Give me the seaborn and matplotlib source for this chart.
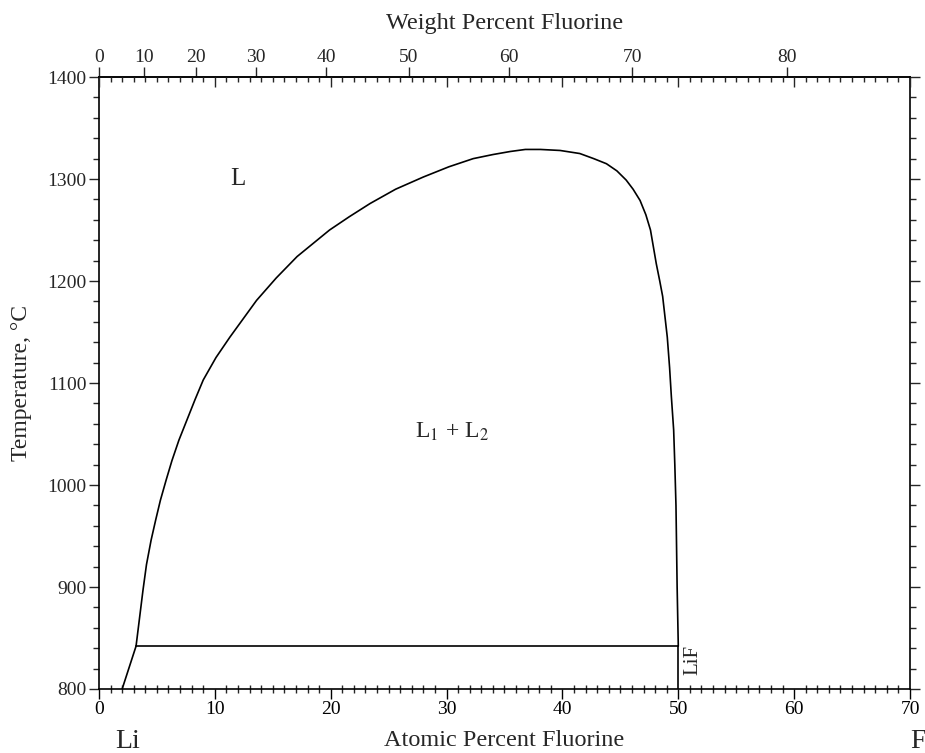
import numpy as np
import pandas as pd
import matplotlib
matplotlib.use("Agg")
import matplotlib.pyplot as plt
import seaborn as sns
from matplotlib.ticker import MultipleLocator

# Miscibility gap boundary (atomic % F, temperature in C)
gap_at = [3.2, 3.8, 4.1, 4.5, 4.9, 5.3, 5.8, 6.3, 6.9, 7.6, 8.3, 9.0, 10.1, 11.3,
          13.6, 15.3, 17.1, 19.9, 21.6, 23.4, 25.6, 28.0, 30.2, 32.3, 34.0, 35.5,
          36.8, 38.1, 39.8, 41.5, 42.7, 43.8, 44.7, 45.5, 46.1, 46.7, 47.2, 47.6,
          48.1, 48.4, 48.65, 49.05, 49.25, 49.4, 49.6, 49.7, 49.8, 49.9, 50.0]
gap_t = [842, 897, 922, 946, 966, 985, 1005, 1024, 1044, 1064, 1084, 1103, 1125, 1145,
         1181, 1203, 1224, 1250, 1263, 1276, 1290, 1302, 1312, 1320, 1324, 1327,
         1329, 1329, 1328, 1325, 1320, 1315, 1308, 1299, 1290, 1279, 1265, 1250,
         1217, 1200, 1185, 1145, 1115, 1087, 1054, 1020, 980, 900, 842]

# Li-side liquidus below the monotectic
li_liq_at = [2.0, 3.2]
li_liq_t = [800, 842]

# monotectic horizontal
mono_at = [3.2, 50.0]
mono_t = [842, 842]

# LiF compound line
lif_at = [50.0, 50.0]
lif_t = [800, 842]

top_ticks = [0, 10, 20, 30, 40, 50, 60, 70, 80]

M_LI = 6.941
M_F = 18.998


def at_to_wt(a):
    a = np.asarray(a, dtype=float)
    return 100 * a * M_F / (a * M_F + (100 - a) * M_LI)


def wt_to_at(w):
    w = np.asarray(w, dtype=float)
    return 100 * (w / M_F) / (w / M_F + (100 - w) / M_LI)


sns.set_style("white")
plt.rcParams['font.family'] = ['Liberation Serif', 'DejaVu Serif']
plt.rcParams['mathtext.fontset'] = 'stix'

fig = plt.figure(figsize=(9.25, 7.53), dpi=100)
ax = fig.add_axes([0.107, 0.085, 0.8768, 0.8127])

lw = 1.2
gap_df = pd.DataFrame({'at': gap_at, 't': gap_t})
sns.lineplot(data=gap_df, x='at', y='t', sort=False, estimator=None, color='black', lw=lw, ax=ax)
for xs, ys in [(li_liq_at, li_liq_t), (mono_at, mono_t), (lif_at, lif_t)]:
    sns.lineplot(x=xs, y=ys, sort=False, estimator=None, color='black', lw=lw, ax=ax)

ax.set_xlim(0, 70)
ax.set_ylim(800, 1400)
for s in ax.spines.values():
    s.set_color('black')
    s.set_linewidth(1.2)

ax.xaxis.set_major_locator(MultipleLocator(10))
ax.xaxis.set_minor_locator(MultipleLocator(1))
ax.yaxis.set_major_locator(MultipleLocator(100))
ax.yaxis.set_minor_locator(MultipleLocator(20))
ax.tick_params(axis='x', which='major', direction='out', length=7, width=1, labelsize=14,
               colors='black', pad=2)
ax.tick_params(axis='x', which='minor', direction='inout', length=6, width=1)
ax.tick_params(axis='y', which='major', direction='out', length=7, width=1, labelsize=14,
               right=True, left=True, pad=2)
ax.tick_params(axis='y', which='minor', direction='out', length=4, width=1, right=True, left=True)

ax.set_xlabel('Atomic Percent Fluorine', fontsize=17.5, labelpad=8)
ax.set_ylabel('Temperature, °C', fontsize=17, labelpad=11)

# top: atomic-percent ticks pointing inward
ax_top = ax.twiny()
ax_top.set_xlim(0, 70)
ax_top.xaxis.set_major_locator(MultipleLocator(10))
ax_top.xaxis.set_minor_locator(MultipleLocator(1))
ax_top.tick_params(axis='x', which='major', direction='in', length=7, width=1, labeltop=False)
ax_top.tick_params(axis='x', which='minor', direction='in', length=3.5, width=1)
for s in ax_top.spines.values():
    s.set_visible(False)

# top: weight percent scale
sec = ax.secondary_xaxis('top', functions=(at_to_wt, wt_to_at))
sec.set_xticks(top_ticks)
sec.tick_params(axis='x', direction='out', length=7, width=1, labelsize=14, pad=1)
sec.spines['top'].set_linewidth(1.2)
sec.set_xlabel('Weight Percent Fluorine', fontsize=17.5, labelpad=14)

ax.text(12, 1300, 'L', fontsize=18, ha='center', va='center')
ax.text(30.5, 1052, r'L$_1$ + L$_2$', fontsize=17, ha='center', va='center')
ax.text(51.3, 828, 'LiF', fontsize=15, rotation=90, ha='center', va='center')

fig.text(128 / 925, 1 - 742 / 753, 'Li', fontsize=20, ha='center', va='center')
fig.text(918 / 925, 1 - 742 / 753, 'F', fontsize=20, ha='center', va='center')

fig.savefig('out.png', dpi=100)
